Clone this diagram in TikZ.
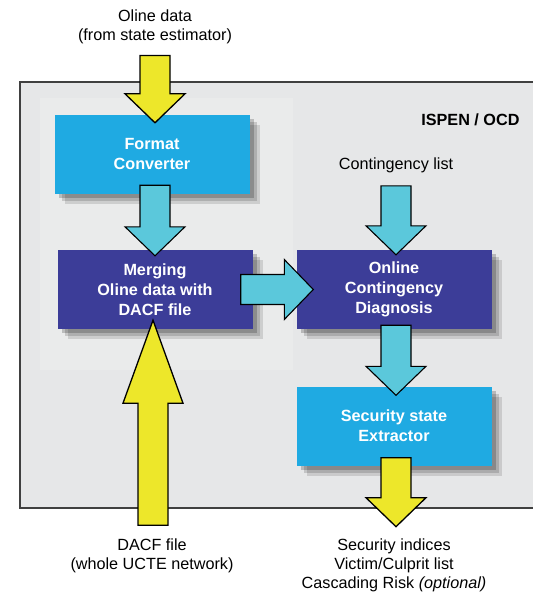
\documentclass[tikz,border=0pt]{standalone}
\usepackage{fontspec}
\setmainfont{Liberation Sans}
\usepackage{tikz}
\usetikzlibrary{positioning}
\usetikzlibrary{calc}
\usetikzlibrary{shadows}

\definecolor{framegray}{HTML}{E6E7E8}
\definecolor{panelgray}{HTML}{EAEBEB}
\definecolor{boxblue}{HTML}{1FAAE2}
\definecolor{boxnavy}{HTML}{3C3D98}
\definecolor{arrowcyan}{HTML}{5BC8DB}
\definecolor{arrowyellow}{HTML}{EDE72A}

\tikzset{
  box/.style={minimum width=195pt, minimum height=79pt, align=center,
    text=white, font=\fontsize{16.2}{20}\selectfont\bfseries, inner sep=0pt,
    drop shadow={shadow xshift=10pt, shadow yshift=-10pt, opacity=0.12, fill=black},
    drop shadow={shadow xshift=7pt, shadow yshift=-7pt, opacity=0.15, fill=black},
    drop shadow={shadow xshift=4pt, shadow yshift=-4pt, opacity=0.2, fill=black}},
  lightbox/.style={box, fill=boxblue},
  darkbox/.style={box, fill=boxnavy},
  label text/.style={align=center},
  yellow arrow/.style={fill=arrowyellow, draw=black, line width=1.3pt, line join=miter},
  cyan arrow/.style={fill=arrowcyan, draw=black, line width=1.1pt, line join=miter}
}

% block arrow from tail #3 to tip #4, head length #1
\newcommand{\fatarrow}[4][29pt]{%
  \coordinate (arrowhead) at ($(#4)!#1!(#3)$);
  \draw[#2] ($(#3)!15pt!90:(#4)$) -- ($(arrowhead)!15pt!90:(#4)$)
    -- ($(arrowhead)!30pt!90:(#4)$) -- (#4)
    -- ($(arrowhead)!30pt!-90:(#4)$) -- ($(arrowhead)!15pt!-90:(#4)$)
    -- ($(#3)!15pt!-90:(#4)$) -- cycle;
}

\begin{document}
\begin{tikzpicture}[x=1pt, y=-1pt, font=\fontsize{16.2}{19}\selectfont]
  \clip (0,0) rectangle (533,595);
  \fill[white] (0,0) rectangle (533,595);

  % system frame
  \draw[fill=framegray, draw=black!75, line width=1.4pt] (20,82) rectangle (540,508);
  \fill[panelgray] (40,98) rectangle (293,370);
  \node[anchor=east, font=\fontsize{16.2}{19}\selectfont\bfseries] (ispen) at (523,120) {ISPEN / OCD};

  % processing blocks
  \node[lightbox] (fmt) at (152,154.5) {Format\\Converter};
  \node[darkbox] (merge) at (155,289.5) {Merging\\Oline data with\\DACF file};
  \node[darkbox] (ocd) at (394,289.5) {Online\\Contingency\\Diagnosis};
  \node[lightbox] (sse) at (394,426) {Security state\\Extractor};

  % inputs and outputs
  \node[label text] (oline) at (155,27) {Oline data\\(from state estimator)};
  \node[label text] (clist) at (396,165) {Contingency list};
  \node[label text] (dacf) at (152,556) {DACF file\\(whole UCTE network)};
  \node[label text] (out) at (394,565)
    {Security indices\\Victim/Culprit list\\Cascading Risk \textit{(optional)}};

  % arrow ends
  \coordinate (olinetail) at ($(oline.south)+(0,8)$);
  \coordinate (fmtin) at ($(fmt.north)+(3,8)$);
  \coordinate (fmtout) at ($(fmt.south)+(3,-9)$);
  \coordinate (mergein) at ($(merge.north)+(0,6)$);
  \coordinate (mergeout) at ($(merge.east)+(-12,0)$);
  \coordinate (ocdleft) at ($(ocd.west)+(17,0)$);
  \coordinate (clisttail) at ($(ocd.north)+(2,-64)$);
  \coordinate (ocdin) at ($(ocd.north)+(2,5)$);
  \coordinate (ocdout) at ($(ocd.south)+(2,-4)$);
  \coordinate (ssein) at ($(sse.north)+(2,9)$);
  \coordinate (sseout) at ($(sse.south)+(2,-8)$);
  \coordinate (outtip) at ($(sse.south)+(2,61)$);
  \coordinate (dacftail) at ($(merge.south)+(-2,196)$);
  \coordinate (mergebot) at ($(merge.south)+(-2,-9)$);

  % data flow
  \fatarrow{yellow arrow}{olinetail}{fmtin}
  \fatarrow{cyan arrow}{fmtout}{mergein}
  \fatarrow{cyan arrow}{mergeout}{ocdleft}
  \fatarrow{cyan arrow}{clisttail}{ocdin}
  \fatarrow{cyan arrow}{ocdout}{ssein}
  \fatarrow{yellow arrow}{sseout}{outtip}
  \fatarrow[83pt]{yellow arrow}{dacftail}{mergebot}
\end{tikzpicture}
\end{document}
